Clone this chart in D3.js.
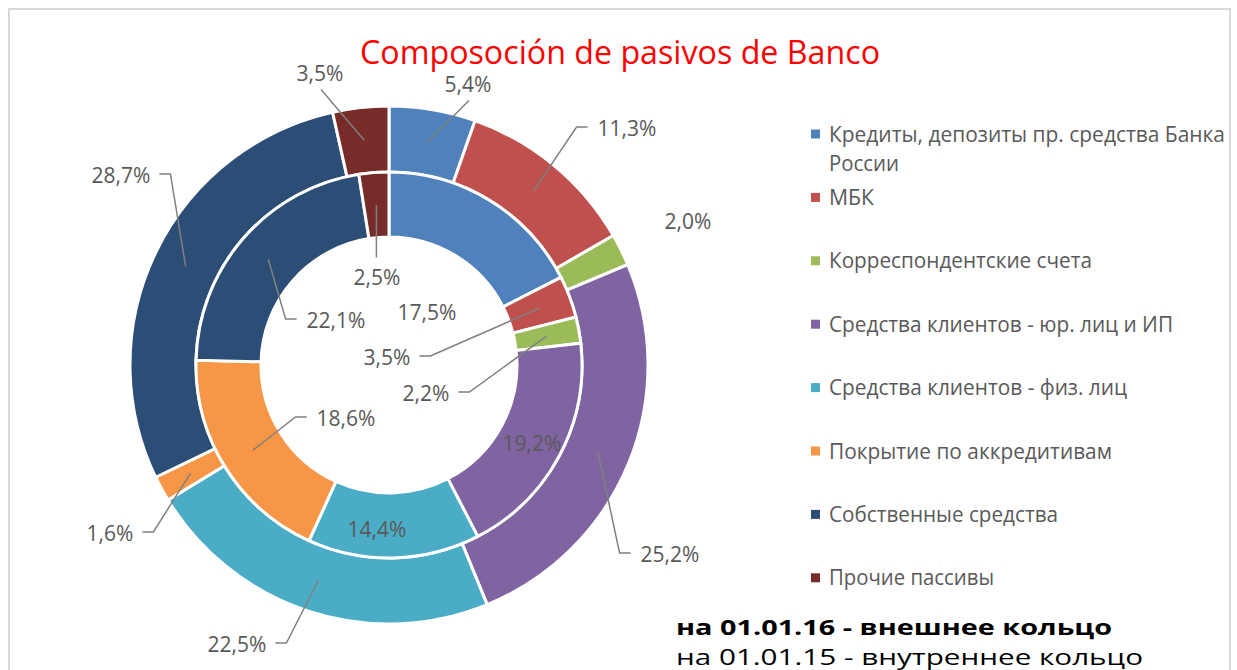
<!DOCTYPE html>
<html>
<head>
<meta charset="utf-8">
<script src="https://cdn.jsdelivr.net/npm/d3@7"></script>
<style>
  html, body { margin: 0; padding: 0; background: #ffffff; }
  svg { display: block; }
</style>
</head>
<body>
<svg id="chart" width="1237" height="670"></svg>
<script>
// ---------------- DATA ----------------
const categories = [
  "Кредиты, депозиты пр. средства Банка России",
  "МБК",
  "Корреспондентские счета",
  "Средства клиентов - юр. лиц и ИП",
  "Средства клиентов - физ. лиц",
  "Покрытие по аккредитивам",
  "Собственные средства",
  "Прочие пассивы"
];
const legendLines = [
  ["Кредиты, депозиты пр. средства Банка", "России"],
  ["МБК"],
  ["Корреспондентские счета"],
  ["Средства клиентов - юр. лиц и ИП"],
  ["Средства клиентов - физ. лиц"],
  ["Покрытие по аккредитивам"],
  ["Собственные средства"],
  ["Прочие пассивы"]
];
// outer ring: на 01.01.16
const outerValues = [5.4, 11.3, 2.0, 25.2, 22.5, 1.6, 28.7, 3.5];
// inner ring: на 01.01.15
const innerValues = [17.5, 3.5, 2.2, 19.2, 14.4, 18.6, 22.1, 2.5];
const colors = ["#4F81BD", "#C0504D", "#9BBB59", "#8064A2", "#4BACC6", "#F79646", "#2C4D75", "#772C2A"];
const titleText = "Composoción de pasivos de Banco";
const noteBold = "на 01.01.16 - внешнее кольцо";
const noteRegular = "на 01.01.15 - внутреннее кольцо";

// ---------------- LAYOUT ----------------
const cx = 389, cy = 365;
const rings = {
  outer: { r0: 193, r1: 259 },
  inner: { r0: 128, r1: 193 }
};
// label centre offsets from chart centre and leader attach side
const outerLabelLayout = [
  { dx: 79, dy: -281, attach: "bottom" },
  { dx: 238, dy: -237, attach: "left" },
  { dx: 299, dy: -144, attach: "none" },
  { dx: 281, dy: 189, attach: "left" },
  { dx: -152, dy: 279, attach: "right" },
  { dx: -279, dy: 168, attach: "right" },
  { dx: -268, dy: -190, attach: "right" },
  { dx: -69, dy: -292, attach: "bottom" }
];
const innerLabelLayout = [
  { dx: 38, dy: -53, attach: "none" },
  { dx: -2, dy: -8, attach: "right" },
  { dx: 37, dy: 28, attach: "right" },
  { dx: 143, dy: 78, attach: "none" },
  { dx: -12, dy: 164, attach: "none" },
  { dx: -43, dy: 53, attach: "left" },
  { dx: -53, dy: -45, attach: "left" },
  { dx: -12, dy: -88, attach: "top" }
];
// legend text widths (layout)
const legendWidths = [[396, 70], [45], [263], [344], [298], [283], [229], [165]];

const FONT = "'Open Sans', 'Noto Sans', sans-serif";
const svg = d3.select("#chart");

// frame
svg.append("rect")
  .attr("x", 9).attr("y", 9).attr("width", 1221).attr("height", 700)
  .attr("fill", "none").attr("stroke", "#D9D9D9").attr("stroke-width", 2);

// title
svg.append("text")
  .attr("x", 620).attr("y", 64)
  .attr("text-anchor", "middle")
  .attr("font-family", FONT).attr("font-size", 32)
  .attr("fill", "#FF0000")
  .attr("textLength", 520).attr("lengthAdjust", "spacingAndGlyphs")
  .text(titleText);

const pie = d3.pie().sort(null).value(d => d);
const g = svg.append("g").attr("transform", `translate(${cx},${cy})`);
const fmt = v => d3.format(".1f")(v).replace(".", ",") + "%";

function drawRing(values, ring, layout, cls) {
  const arcs = pie(values);
  const arc = d3.arc().innerRadius(ring.r0).outerRadius(ring.r1);
  const mid = d3.arc().innerRadius((ring.r0 + ring.r1) / 2).outerRadius((ring.r0 + ring.r1) / 2);
  g.selectAll("path." + cls).data(arcs).enter().append("path")
    .attr("class", cls)
    .attr("d", arc)
    .attr("fill", (d, i) => colors[i])
    .attr("stroke", "#ffffff").attr("stroke-width", 3).attr("stroke-linejoin", "miter");
  return arcs.map((d, i) => ({ d, c: mid.centroid(d), lay: layout[i], value: values[i] }));
}

const outerItems = drawRing(outerValues, rings.outer, outerLabelLayout, "outer");
const innerItems = drawRing(innerValues, rings.inner, innerLabelLayout, "inner");

const labelG = g.append("g");
function drawLabels(items) {
  items.forEach(it => {
    const lx = it.lay.dx, ly = it.lay.dy;
    const t = labelG.append("text")
      .attr("x", lx).attr("y", ly).attr("dy", "0.36em")
      .attr("text-anchor", "middle")
      .attr("font-family", FONT).attr("font-size", 21)
      .attr("fill", "#595959")
      .text(fmt(it.value));
    const w = t.node().getComputedTextLength();
    const h = 15;
    let pts = null;
    const [sx, sy] = it.c;
    if (it.lay.attach === "left") {
      const ex = lx - w / 2 - 10;
      pts = [[sx, sy], [ex - 11, ly - 1], [ex, ly - 1]];
    } else if (it.lay.attach === "right") {
      const ex = lx + w / 2 + 9;
      pts = [[sx, sy], [ex + 11, ly - 1], [ex, ly - 1]];
    } else if (it.lay.attach === "bottom") {
      pts = [[sx, sy], [lx + 1, ly + h / 2 + 9]];
    } else if (it.lay.attach === "top") {
      pts = [[sx, sy], [sx, ly - h / 2 - 12]];
    }
    if (pts) {
      labelG.insert("path", "text")
        .attr("d", d3.line()(pts))
        .attr("fill", "none").attr("stroke", "#808080").attr("stroke-width", 1.5);
    }
  });
}
drawLabels(outerItems);
drawLabels(innerItems);

// legend
const legend = svg.append("g").attr("transform", "translate(811,134)");
legendLines.forEach((lines, i) => {
  const y = i * 63.4;
  legend.append("rect")
    .attr("x", 0).attr("y", y - 4.5).attr("width", 9).attr("height", 9)
    .attr("fill", colors[i]);
  lines.forEach((ln, k) => {
    legend.append("text")
      .attr("x", 18).attr("y", y + k * 29).attr("dy", "0.36em")
      .attr("font-family", FONT).attr("font-size", 21)
      .attr("fill", "#595959")
      .attr("textLength", legendWidths[i][k]).attr("lengthAdjust", "spacingAndGlyphs")
      .text(ln);
  });
});

// notes
svg.append("text")
  .attr("x", 676).attr("y", 635)
  .attr("font-family", FONT).attr("font-size", 21).attr("font-weight", "bold")
  .attr("fill", "#000000")
  .attr("textLength", 436).attr("lengthAdjust", "spacingAndGlyphs")
  .text(noteBold);
svg.append("text")
  .attr("x", 676).attr("y", 665)
  .attr("font-family", FONT).attr("font-size", 21)
  .attr("fill", "#000000")
  .attr("textLength", 467).attr("lengthAdjust", "spacingAndGlyphs")
  .text(noteRegular);
</script>
</body>
</html>
